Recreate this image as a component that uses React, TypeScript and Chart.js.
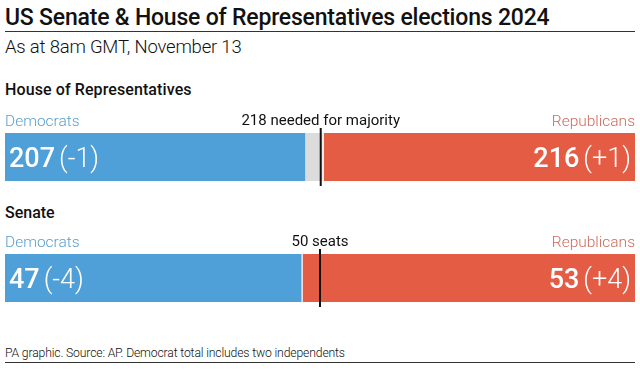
import React, { useEffect, useRef } from "react";
import { Chart, registerables } from "chart.js";

Chart.register(...registerables);

const parties = ["Democrats", "Undecided", "Republicans"];
const partyColors = ["#4f9fd8", "#dcdcdc", "#e55c45"];
const labelColors = ["#5b9fcb", "#999999", "#cf6b5c"];

const houseSeats = [207, 12, 216];
const houseChange = ["-1", "", "+1"];
const houseMajority = 218;
const houseMajorityLabel = "218 needed for majority";

const senateSeats = [47, 0, 53];
const senateChange = ["-4", "", "+4"];
const senateMajority = 50;
const senateMajorityLabel = "50 seats";

const FONT = "Roboto, 'Liberation Sans', sans-serif";

function ChamberBar(props: {
  top: number;
  seats: number[];
  change: string[];
  majority: number;
  majorityLabel: string;
}) {
  const ref = useRef<HTMLCanvasElement>(null);
  useEffect(() => {
    const canvas = ref.current!;
    const total = props.seats.reduce((a, b) => a + b, 0);
    const overlay = {
      id: "overlay",
      afterDatasetsDraw(chart: any) {
        const ctx = chart.ctx as CanvasRenderingContext2D;
        const area = chart.chartArea;
        ctx.save();
        // party labels
        ctx.font = `300 15.5px ${FONT}`;
        ctx.textBaseline = "alphabetic";
        ctx.fillStyle = labelColors[0];
        ctx.textAlign = "left";
        ctx.fillText(parties[0], area.left, area.top - 7);
        ctx.fillStyle = labelColors[2];
        ctx.textAlign = "right";
        ctx.fillText(parties[2], area.right, area.top - 7);
        // majority line
        const mx = chart.scales.x.getPixelForValue(props.majority);
        ctx.strokeStyle = "#111";
        ctx.lineWidth = 2;
        ctx.beginPath();
        ctx.moveTo(mx, area.top - 5);
        ctx.lineTo(mx, area.bottom + 5);
        ctx.stroke();
        ctx.font = `400 15px ${FONT}`;
        ctx.fillStyle = "#111";
        ctx.textAlign = "center";
        ctx.fillText(props.majorityLabel, mx, area.top - 8);
        // value labels
        const dem = chart.getDatasetMeta(0).data[0];
        const rep = chart.getDatasetMeta(2).data[0];
        const ty = dem.y + 10;
        ctx.fillStyle = "#fff";
        ctx.textAlign = "left";
        const demNum = String(props.seats[0]);
        const demCh = `(${props.change[0]})`;
        ctx.font = `500 27px ${FONT}`;
        const dx = Math.min(dem.base, dem.x) + 4;
        ctx.fillText(demNum, dx, ty);
        const w1 = ctx.measureText(demNum).width + 4;
        ctx.font = `300 27px ${FONT}`;
        ctx.fillText(demCh, dx + w1, ty);
        const repNum = String(props.seats[2]);
        const repCh = `(${props.change[2]})`;
        const rx = Math.max(rep.base, rep.x) - 4;
        ctx.textAlign = "right";
        ctx.font = `300 27px ${FONT}`;
        ctx.fillText(repCh, rx, ty);
        const w2 = ctx.measureText(repCh).width + 4;
        ctx.font = `500 27px ${FONT}`;
        ctx.fillText(repNum, rx - w2, ty);
        ctx.restore();
      },
    };
    const chart = new Chart(canvas, {
      type: "bar",
      data: {
        labels: [""],
        datasets: parties.map((p, i) => ({
          label: p,
          data: [props.seats[i]],
          backgroundColor: partyColors[i],
          borderColor: "#ffffff",
          borderWidth: i === 2 ? { left: 2 } : 0,
          borderSkipped: false,
          categoryPercentage: 1,
          barPercentage: 1,
        })),
      },
      options: {
        indexAxis: "y",
        responsive: false,
        animation: false,
        layout: { padding: { left: 5, right: 5, top: 23, bottom: 9 } },
        plugins: { legend: { display: false }, tooltip: { enabled: false } },
        scales: {
          x: { stacked: true, min: 0, max: total, display: false },
          y: { stacked: true, display: false },
        },
      },
      plugins: [overlay],
    } as any);
    return () => chart.destroy();
  }, []);
  return (
    <canvas
      ref={ref}
      width={640}
      height={80}
      style={{ position: "absolute", left: 0, top: props.top, width: 640, height: 80 }}
    />
  );
}

const text = (s: React.CSSProperties): React.CSSProperties => ({
  position: "absolute",
  left: 5,
  fontFamily: FONT,
  color: "#111",
  whiteSpace: "nowrap",
  lineHeight: 1,
  ...s,
});

export default function App() {
  return (
    <div
      style={{
        position: "absolute",
        left: 0,
        top: 0,
        width: 640,
        height: 370,
        background: "#fff",
        overflow: "hidden",
      }}
    >
      <div style={text({ top: 6, fontSize: 23, fontWeight: 500, letterSpacing: -0.2 })}>
        US Senate &amp; House of Representatives elections 2024
      </div>
      <div style={{ position: "absolute", left: 5, top: 31, width: 630, height: 1, background: "#333" }} />
      <div style={text({ top: 38, fontSize: 18.5, fontWeight: 300, letterSpacing: -0.2 })}>
        As at 8am GMT, November 13
      </div>
      <div style={text({ top: 82, fontSize: 16, fontWeight: 500, letterSpacing: 0.1 })}>House of Representatives</div>
      <ChamberBar
        top={110}
        seats={houseSeats}
        change={houseChange}
        majority={houseMajority}
        majorityLabel={houseMajorityLabel}
      />
      <div style={text({ top: 205, fontSize: 16, fontWeight: 500 })}>Senate</div>
      <ChamberBar
        top={231}
        seats={senateSeats}
        change={senateChange}
        majority={senateMajority}
        majorityLabel={senateMajorityLabel}
      />
      <div style={text({ top: 347, fontSize: 12.2, fontWeight: 300, letterSpacing: -0.15 })}>
        PA graphic. Source: AP. Democrat total includes two independents
      </div>
      <div style={{ position: "absolute", left: 5, top: 362, width: 630, height: 1, background: "#333" }} />
    </div>
  );
}
